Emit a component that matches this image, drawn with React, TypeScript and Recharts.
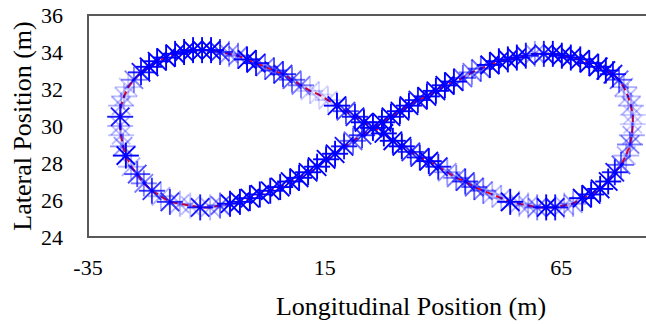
import { ScatterChart, Scatter, XAxis, YAxis, ReferenceArea } from 'recharts';

// figure-eight track in path order (starting at the crossing)
const longitudinal = [
  25.2, 27.1, 29.0, 30.9, 32.8, 34.7, 36.6, 38.5, 40.4, 42.3,
  44.2, 46.1, 48.0, 49.9, 51.8, 53.7, 55.6, 57.5, 59.4, 61.3,
  63.2, 65.1, 67.0, 69.0, 70.9, 72.8, 74.4, 75.9, 77.2, 78.2,
  79.1, 79.7, 80.1, 80.1, 79.9, 79.5, 78.7, 77.6, 76.3, 74.9,
  73.2, 71.3, 69.4, 67.5, 65.6, 63.7, 61.8, 59.9, 58.0, 56.1,
  54.2, 52.3, 50.4, 48.5, 46.6, 44.7, 42.8, 40.9, 39.0, 37.0,
  35.1, 33.2, 31.3, 29.4, 27.5, 23.3, 21.4, 19.5, 17.6, 15.7,
  13.8, 11.9, 10.0, 8.1, 6.2, 4.3, 2.4, 0.5, -1.4, -3.3,
  -5.2, -7.1, -9.0, -10.9, -12.8, -14.7, -16.6, -18.5, -20.4, -22.1,
  -23.8, -25.3, -26.5, -27.4, -28.0, -28.2, -28.2, -28.0, -27.6, -27.0,
  -25.9, -24.6, -23.2, -21.5, -19.6, -17.7, -15.6, -13.4, -11.3, -9.2,
  -7.1, -5.0, -2.9, -0.8, 1.3, 3.5, 5.6, 7.7, 9.6, 11.5,
  13.4, 15.3, 17.2, 19.1, 21.0, 22.9,
];

const lateral = [
  29.9, 30.2, 30.5, 30.8, 31.1, 31.4, 31.6, 31.9, 32.2, 32.4,
  32.6, 32.9, 33.1, 33.3, 33.5, 33.6, 33.7, 33.8, 33.9, 33.9,
  33.9, 33.8, 33.7, 33.6, 33.4, 33.2, 33.0, 32.8, 32.5, 32.1,
  31.6, 31.1, 30.6, 30.1, 29.5, 29.0, 28.4, 27.9, 27.5, 27.0,
  26.6, 26.3, 26.1, 25.8, 25.7, 25.6, 25.6, 25.6, 25.7, 25.8,
  25.9, 26.1, 26.3, 26.5, 26.7, 27.0, 27.2, 27.5, 27.8, 28.1,
  28.3, 28.6, 28.9, 29.2, 29.6, 30.2, 30.5, 30.8, 31.1, 31.4,
  31.7, 31.9, 32.2, 32.5, 32.8, 33.0, 33.2, 33.4, 33.6, 33.8,
  33.9, 34.0, 34.1, 34.1, 34.1, 34.0, 33.9, 33.7, 33.5, 33.2,
  32.9, 32.5, 32.1, 31.6, 31.1, 30.5, 30.0, 29.5, 28.9, 28.4,
  27.8, 27.4, 26.9, 26.5, 26.2, 25.9, 25.8, 25.7, 25.6, 25.6,
  25.7, 25.8, 25.9, 26.1, 26.3, 26.5, 26.7, 27.0, 27.2, 27.5,
  27.8, 28.2, 28.5, 28.9, 29.2, 29.5,
];

// marker intensity (0..1)
const shade = [
  1, 1, 1, 1, 1, 0.9, 1, 1, 1, 1,
  0.6, 0.5, 0.6, 1, 1, 1, 1, 0.9, 0.4, 0.9,
  1, 1, 1, 1, 1, 1, 1, 0.9, 0.6, 0.3,
  0.25, 0.3, 0.2, 0.2, 0.35, 0.5, 0.3, 0.6, 0.9, 1,
  1, 1, 1, 0.4, 0.3, 0.9, 1, 0.5, 0.3, 0.3,
  1, 0.3, 0.25, 0.5, 0.6, 0.8, 0.5, 0.4, 0.9, 1,
  0.9, 0.8, 1, 1, 1, 1, 0.9, 0.7, 1, 0.2,
  0.15, 0.2, 0.5, 0.6, 0.8, 0.7, 0.5, 0.9, 1, 0.5,
  0.4, 0.8, 1, 1, 1, 1, 1, 1, 1, 1,
  0.9, 0.5, 0.2, 0.25, 0.3, 0.9, 0.3, 0.25, 0.4, 1,
  0.3, 0.7, 0.5, 0.8, 0.3, 0.8, 0.3, 0.25, 0.9, 0.3,
  0.6, 1, 1, 1, 1, 1, 1, 1, 1, 1,
  1, 1, 1, 0.9, 0.6, 0.8,
];

const xTicks = [-35, 15, 65];
const yTicks = [24, 26, 28, 30, 32, 34, 36];

const points = longitudinal.map((x, i) => ({ x, y: lateral[i], w: shade[i] }));
const refPath = [...points, points[0]];

const font = '"Liberation Serif", "Times New Roman", serif';

const Star = (props: any) => {
  const { cx, cy, payload } = props;
  const r = 13;
  const d = r * 0.7071;
  return (
    <g stroke="#0000ff" strokeOpacity={payload.w} strokeWidth={1.9}>
      <line x1={cx - r} y1={cy} x2={cx + r} y2={cy} />
      <line x1={cx} y1={cy - r} x2={cx} y2={cy + r} />
      <line x1={cx - d} y1={cy - d} x2={cx + d} y2={cy + d} />
      <line x1={cx - d} y1={cy + d} x2={cx + d} y2={cy - d} />
    </g>
  );
};

export default function App() {
  return (
    <div style={{ position: 'absolute', left: 0, top: 0, width: 646, height: 324, overflow: 'hidden', background: '#fff' }}>
      <ScatterChart width={680} height={324} margin={{ top: 15, right: 24, bottom: 27, left: 28 }}>
        <XAxis
          type="number"
          dataKey="x"
          domain={[-35, 85]}
          ticks={xTicks}
          allowDataOverflow
          axisLine={false}
          tickLine={false}
          tickSize={0}
          tickMargin={22}
          height={60}
          tick={{ fill: '#000', fontSize: 22, fontFamily: font }}
          label={{
            content: () => (
              <text x={411} y={315} textAnchor="middle" fontSize={26} fontFamily={font} fill="#000">
                Longitudinal Position (m)
              </text>
            ),
          }}
        />
        <YAxis
          type="number"
          dataKey="y"
          domain={[24, 36]}
          ticks={yTicks}
          allowDataOverflow
          axisLine={false}
          tickLine={false}
          tickSize={0}
          tickMargin={25}
          width={60}
          tick={{ fill: '#000', fontSize: 22, fontFamily: font }}
          label={{
            content: () => (
              <text
                x={0}
                y={0}
                transform="translate(31,126) rotate(-90)"
                textAnchor="middle"
                fontSize={26}
                fontFamily={font}
                fill="#000"
              >
                Lateral Position (m)
              </text>
            ),
          }}
        />
        <ReferenceArea x1={-35} x2={85} y1={24} y2={36} fill="none" stroke="#595959" strokeWidth={2} />
        <Scatter
          data={refPath}
          line={{ stroke: '#ff0000', strokeWidth: 2, strokeDasharray: '7 4' }}
          shape={() => <g />}
          isAnimationActive={false}
        />
        <Scatter data={points} shape={Star} isAnimationActive={false} />
      </ScatterChart>
    </div>
  );
}
